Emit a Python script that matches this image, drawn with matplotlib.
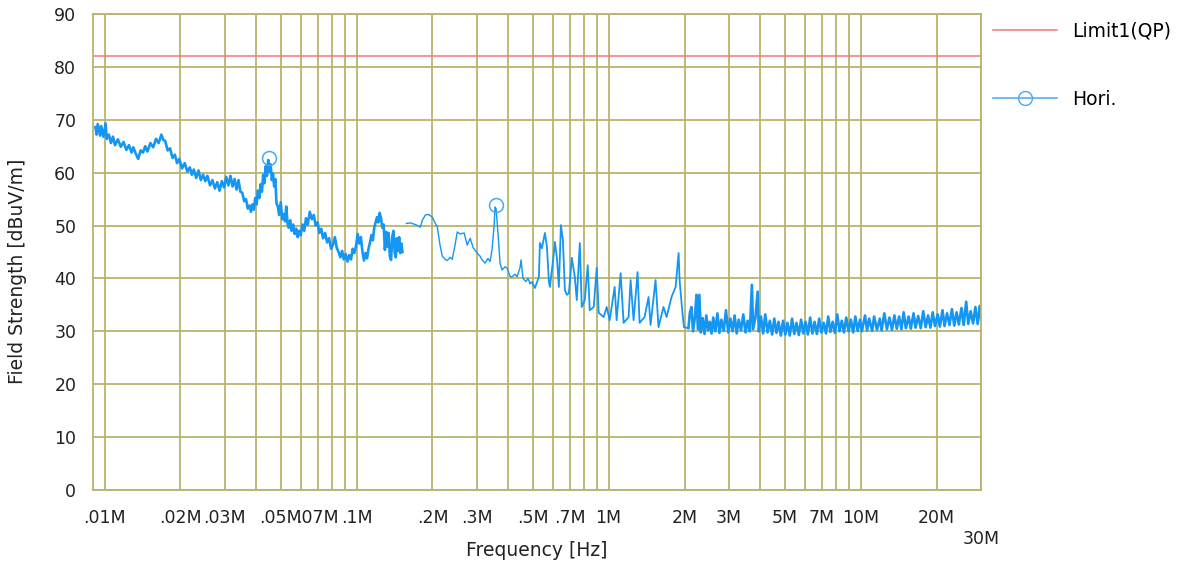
import matplotlib.pyplot as plt
import numpy as np
from matplotlib.lines import Line2D

# frekanslar MHz, seviyeler dBuV/m
seg1_freq = [0.0092, 0.0093, 0.0094, 0.0096, 0.0097, 0.0099, 0.0101, 0.0102, 0.0104, 0.0106,
             0.0108, 0.0110, 0.0113, 0.0116, 0.0119, 0.0122, 0.0125, 0.0128, 0.0130, 0.0133,
             0.0136, 0.0139, 0.0142, 0.0145, 0.0148, 0.0152, 0.0156, 0.0160, 0.0164, 0.0168,
             0.0171, 0.0174, 0.0178, 0.0182, 0.0186, 0.0190, 0.0194, 0.0198, 0.0203, 0.0208,
             0.0213, 0.0218, 0.0222, 0.0226, 0.0231, 0.0236, 0.0241, 0.0246, 0.0251, 0.0256,
             0.0262, 0.0268, 0.0274, 0.0280, 0.0286, 0.0292, 0.0298, 0.0304, 0.0310, 0.0316,
             0.0322, 0.0328, 0.0334, 0.0340, 0.0346, 0.0352, 0.0358, 0.0364, 0.0370, 0.0376,
             0.0381, 0.0386, 0.0391, 0.0396, 0.0401, 0.0406, 0.0411, 0.0416, 0.0421, 0.0426,
             0.0431, 0.0436, 0.0441, 0.0446, 0.0451, 0.0456, 0.0461, 0.0466, 0.0471, 0.0476,
             0.0481, 0.0487, 0.0493, 0.0500, 0.0507, 0.0514, 0.0520, 0.0526, 0.0532, 0.0538,
             0.0545, 0.0552, 0.0560, 0.0568, 0.0576, 0.0584, 0.0592, 0.0600, 0.0610, 0.0620,
             0.0630, 0.0640, 0.0652, 0.0664, 0.0676, 0.0688, 0.0700, 0.0712, 0.0724, 0.0736,
             0.0750, 0.0764, 0.0778, 0.0792, 0.0806, 0.0820, 0.0834, 0.0848, 0.0862, 0.0876,
             0.0890, 0.0905, 0.0920, 0.0935, 0.0950, 0.0965, 0.0980, 0.0995, 0.1010, 0.1025,
             0.1040, 0.1055, 0.1070, 0.1085, 0.1100, 0.1115, 0.1130, 0.1145, 0.1160, 0.1175,
             0.1190, 0.1205, 0.1220, 0.1235, 0.1250, 0.1265, 0.1280, 0.1295, 0.1310, 0.1325,
             0.1340, 0.1355, 0.1370, 0.1385, 0.1400, 0.1415, 0.1430, 0.1445, 0.1460, 0.1475,
             0.1490, 0.1505, 0.1520]
seg1_level = [68.6, 67.2, 69.2, 67.0, 68.8, 66.8, 69.3, 66.4, 67.2, 65.6,
              66.8, 65.2, 66.3, 64.9, 65.8, 64.3, 65.2, 63.8, 64.8, 63.6,
              62.6, 64.2, 63.8, 65.0, 64.0, 65.6, 64.8, 66.4, 65.6, 67.2,
              66.2, 66.0, 64.2, 64.6, 62.8, 63.4, 61.8, 62.6, 60.8, 61.8,
              60.2, 61.0, 59.6, 60.6, 59.0, 60.4, 58.6, 59.6, 58.4, 59.4,
              57.6, 58.6, 57.0, 58.2, 56.6, 58.4, 57.2, 59.2, 57.6, 59.4,
              57.4, 58.8, 56.8, 58.6, 56.4, 56.2, 54.6, 55.0, 53.2, 53.8,
              52.6, 54.0, 53.0, 55.2, 54.0, 56.6, 55.2, 57.8, 56.4, 59.6,
              58.0, 61.2, 59.4, 62.4, 60.2, 61.6, 58.6, 59.8, 57.4, 58.8,
              54.2, 53.6, 52.0, 54.4, 51.2, 52.2, 50.8, 53.6, 50.4, 49.6,
              51.0, 49.0, 50.2, 48.4, 49.4, 47.8, 49.0, 48.2, 50.2, 49.0,
              51.4, 50.2, 52.6, 51.2, 52.0, 50.0, 50.6, 48.6, 49.4, 47.6,
              48.6, 46.8, 47.6, 45.6, 46.4, 47.8, 45.8, 45.0, 44.0, 45.2,
              43.6, 44.6, 43.2, 44.4, 43.6, 45.6, 44.8, 46.2, 48.4, 46.6,
              47.8, 45.0, 43.4, 44.8, 43.8, 45.6, 46.8, 48.2, 47.2, 49.6,
              50.6, 51.6, 50.6, 52.4, 51.4, 49.6, 50.2, 45.4, 48.8, 46.0,
              48.6, 44.2, 43.5, 47.8, 49.0, 45.0, 44.0, 47.6, 45.2, 47.8,
              44.8, 46.6, 45.0]

seg2_freq = [0.1576, 0.1634, 0.1710, 0.1790, 0.1823, 0.1874, 0.1926, 0.1998, 0.2053,
             0.2090, 0.2148, 0.2188, 0.2248, 0.2290, 0.2350, 0.2395, 0.2462, 0.2508, 0.2576,
             0.2671, 0.2746, 0.2823, 0.2900, 0.3008, 0.3090, 0.3148, 0.3235, 0.3320, 0.3385,
             0.3447, 0.3512, 0.3542, 0.3575, 0.3640, 0.3709, 0.3776, 0.3880, 0.3950, 0.4062,
             0.4136, 0.4250, 0.4329, 0.4448, 0.4490, 0.4572, 0.4699, 0.4785, 0.4873]
seg2_level = [50.4, 50.5, 50.2, 49.7, 51.0, 52.0, 52.1, 51.6, 50.4,
              49.7, 46.0, 44.2, 43.6, 43.4, 44.0, 43.6, 46.5, 48.8, 48.4,
              48.6, 46.3, 47.6, 45.8, 44.8, 44.2, 43.5, 42.9, 43.8, 43.2,
              45.5, 50.0, 53.5, 53.2, 48.5, 42.8, 41.6, 42.2, 42.0, 40.4,
              40.3, 40.8, 40.3, 42.0, 43.5, 40.0, 39.4, 40.0, 39.1]

seg3_freq = [0.4963, 0.5100, 0.5287, 0.5336, 0.5434, 0.5585, 0.5689, 0.5794, 0.5847, 0.6063,
             0.6118, 0.6231, 0.6346, 0.6463, 0.6582, 0.6703, 0.6826, 0.6952, 0.7144, 0.7339,
             0.7474, 0.7681, 0.7822, 0.8038, 0.8260, 0.8412, 0.8726, 0.8966, 0.9131, 0.9556,
             0.9820, 1.0091, 1.0561, 1.0755, 1.1155, 1.1463, 1.1997, 1.2218, 1.2556, 1.3023,
             1.3263, 1.3880, 1.4397, 1.4662, 1.5343, 1.5767, 1.6501, 1.6975, 1.7764, 1.8433,
             1.8943, 1.9115, 1.9579, 1.9891, 2.0716]
seg3_level = [39.3, 38.2, 40.3, 46.7, 45.7, 48.6, 46.0, 39.3, 38.4, 44.8,
              46.9, 44.0, 38.4, 50.1, 47.3, 37.8, 36.9, 37.2, 43.9, 40.3,
              35.9, 46.7, 34.6, 35.9, 42.5, 34.0, 34.6, 42.0, 33.5, 32.7,
              34.6, 32.1, 38.4, 32.1, 41.0, 31.6, 32.7, 39.7, 32.1, 41.2,
              31.6, 32.7, 36.5, 31.2, 39.7, 30.8, 34.6, 32.7, 36.5, 38.4,
              44.8, 39.7, 34.0, 30.8, 30.6]

seg4_freq = [2.10, 2.13, 2.16, 2.20, 2.23, 2.26, 2.29, 2.32, 2.36, 2.40,
             2.44, 2.48, 2.52, 2.56, 2.60, 2.65, 2.70, 2.75, 2.80, 2.86,
             2.92, 2.98, 3.04, 3.10, 3.16, 3.22, 3.28, 3.35, 3.42, 3.49,
             3.56, 3.63, 3.70, 3.74, 3.82, 3.90, 3.94, 4.02, 4.10, 4.18,
             4.27, 4.36, 4.45, 4.54, 4.63, 4.72, 4.82, 4.92, 5.02, 5.12,
             5.23, 5.34, 5.45, 5.56, 5.68, 5.80, 5.92, 6.04, 6.17, 6.30,
             6.43, 6.56, 6.70, 6.84, 6.98, 7.13, 7.28, 7.43, 7.58, 7.74,
             7.90, 8.07, 8.24, 8.41, 8.58, 8.76, 8.95, 9.14, 9.33, 9.52,
             9.72, 9.93, 10.1, 10.4, 10.6, 10.8, 11.1, 11.3, 11.6, 11.9,
             12.1, 12.4, 12.7, 13.0, 13.3, 13.6, 13.9, 14.2, 14.5, 14.8,
             15.1, 15.5, 15.8, 16.2, 16.5, 16.9, 17.3, 17.7, 18.1, 18.5,
             18.9, 19.3, 19.7, 20.2, 20.6, 21.1, 21.5, 22.0, 22.5, 23.0,
             23.5, 24.0, 24.5, 25.1, 25.6, 26.2, 26.7, 27.3, 27.9, 28.5,
             29.1, 29.7, 30.0]
seg4_level = [33.5, 34.6, 30.0, 32.8, 36.9, 30.4, 36.9, 29.8, 32.5, 29.5,
              33.0, 30.2, 31.8, 29.6, 32.6, 30.0, 33.4, 29.7, 32.2, 30.1,
              34.0, 29.8, 32.4, 30.0, 33.0, 29.6, 32.2, 30.2, 33.2, 29.8,
              32.0, 30.0, 38.8, 30.4, 32.6, 37.5, 30.0, 32.8, 29.6, 33.2,
              29.8, 32.0, 29.4, 32.4, 29.7, 31.8, 29.2, 32.0, 29.4, 31.6,
              29.2, 32.4, 29.5, 31.6, 29.3, 32.2, 29.6, 31.8, 29.4, 32.6,
              29.6, 31.8, 29.5, 32.4, 29.8, 31.6, 29.6, 32.8, 29.9, 31.8,
              29.7, 33.2, 30.0, 32.0, 29.8, 32.6, 30.0, 32.2, 29.8, 32.8,
              30.1, 32.2, 30.0, 33.0, 30.2, 32.4, 30.1, 32.8, 30.3, 32.4,
              30.2, 33.4, 30.4, 32.6, 30.3, 33.0, 30.5, 32.8, 30.4, 33.6,
              30.6, 32.8, 30.5, 33.4, 30.7, 32.9, 30.6, 33.8, 30.8, 33.0,
              30.7, 33.6, 31.0, 33.2, 30.9, 34.0, 31.0, 33.4, 31.2, 34.2,
              31.1, 33.6, 31.3, 34.4, 31.2, 35.6, 31.4, 33.8, 31.5, 34.6,
              31.4, 34.8, 32.6]

peak_freq = [0.0449, 0.3575]
peak_level = [62.8, 53.9]

limit_freq = [0.009, 30]
limit_level = [82, 82]

grid_freqs = [0.01, 0.02, 0.03, 0.04, 0.05, 0.06, 0.07, 0.08, 0.09,
              0.1, 0.2, 0.3, 0.4, 0.5, 0.6, 0.7, 0.8, 0.9,
              1, 2, 3, 4, 5, 6, 7, 8, 9, 10, 20, 30]
grid_labels = ['.01M', '.02M', '.03M', '', '.05M', '', '.07M', '', '',
               '.1M', '.2M', '.3M', '', '.5M', '', '.7M', '', '',
               '1M', '2M', '3M', '', '5M', '', '7M', '', '', '10M', '20M', '\n30M']

blue = '#1596f2'
olive = '#b9b46c'
red = '#ee7b7b'

fig = plt.figure(figsize=(11.81, 5.68), dpi=100)
ax = fig.add_axes([93/1181, 78/568, 888/1181, 476/568])

ax.plot(limit_freq, limit_level, color=red, lw=1.1)

# kalin (yogun) ve ince parcalar
ax.plot(seg1_freq, seg1_level, color=blue, lw=1.9)
ax.plot(seg2_freq, seg2_level, color=blue, lw=1.0)
ax.plot(seg2_freq[-1:] + seg3_freq, seg2_level[-1:] + seg3_level, color=blue, lw=1.3)
ax.plot(seg3_freq[-1:] + seg4_freq, seg3_level[-1:] + seg4_level, color=blue, lw=1.9)
ax.plot(peak_freq, peak_level, 'o', ms=10, mfc='none', mec='#4aa8f0', mew=1.1)

ax.set_xscale('log')
ax.set_xlim(0.009, 30)
ax.set_ylim(0, 90)
ax.set_xticks(grid_freqs)
ax.set_xticklabels(grid_labels)
ax.minorticks_off()
ax.set_yticks(range(0, 91, 10))
ax.tick_params(length=0, labelsize=12.5, colors='#222222')
ax.tick_params(axis='x', pad=14)
ax.tick_params(axis='y', pad=12)
ax.grid(True, color=olive, lw=1.3)
ax.set_axisbelow(True)
for s in ax.spines.values():
    s.set_color(olive)
    s.set_linewidth(1.3)

ax.set_xlabel('Frequency [Hz]', fontsize=13.5, color='#222222')
ax.xaxis.set_label_coords(0.5, -0.108)
ax.set_ylabel('Field Strength [dBuV/m]', fontsize=13.5, color='#222222')
ax.yaxis.set_label_coords(-0.074, 0.46)

handles = [Line2D([], [], color=red, lw=1.1),
           Line2D([], [], color='#4aa8f0', lw=1.1, marker='o', ms=10, mfc='none')]
fig.legend(handles, ['Limit1(QP)', 'Hori.'], loc='upper left', bbox_to_anchor=(976/1181, 1 - 5/568),
           frameon=False, fontsize=13.5, handlelength=3.4, handletextpad=0.8, labelspacing=2.6)

fig.savefig('out.png', dpi=100)
